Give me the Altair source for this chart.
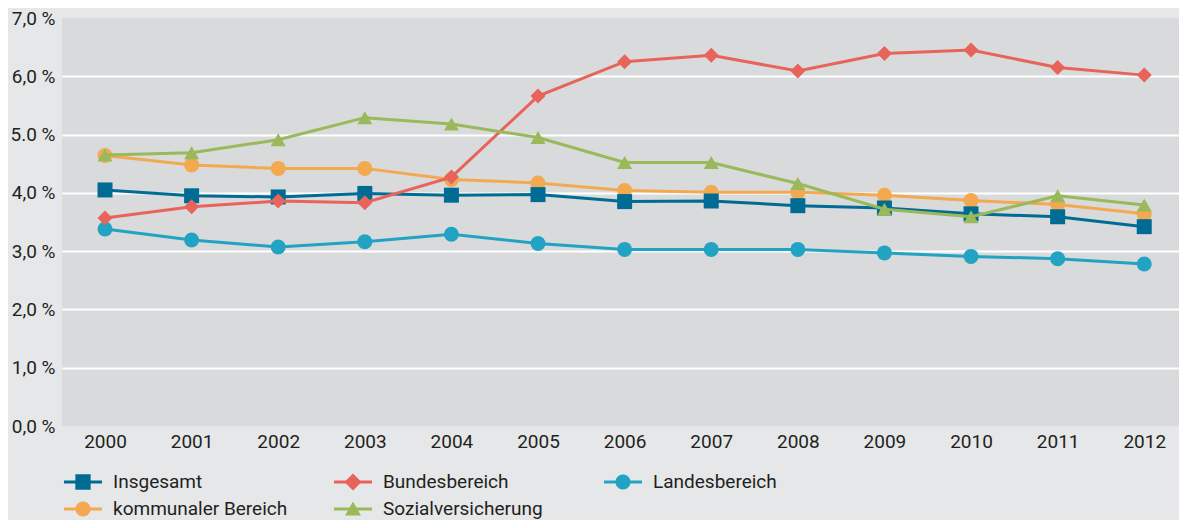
import altair as alt
import pandas as pd

years = [2000, 2001, 2002, 2003, 2004, 2005, 2006, 2007, 2008, 2009, 2010, 2011, 2012]
series_names = ["Insgesamt", "Bundesbereich", "Landesbereich", "kommunaler Bereich", "Sozialversicherung"]
insgesamt = [4.05, 3.95, 3.93, 3.99, 3.96, 3.97, 3.85, 3.86, 3.78, 3.74, 3.64, 3.59, 3.42]
bundes = [3.57, 3.76, 3.86, 3.83, 4.27, 5.66, 6.25, 6.36, 6.09, 6.39, 6.45, 6.15, 6.02]
landes = [3.38, 3.19, 3.07, 3.16, 3.29, 3.13, 3.03, 3.03, 3.03, 2.97, 2.91, 2.87, 2.78]
kommunal = [4.64, 4.48, 4.42, 4.42, 4.23, 4.17, 4.04, 4.01, 4.01, 3.96, 3.87, 3.80, 3.64]
sozial = [4.65, 4.69, 4.91, 5.29, 5.18, 4.95, 4.52, 4.52, 4.16, 3.72, 3.59, 3.95, 3.79]
y_ticks = [0, 1, 2, 3, 4, 5, 6, 7]

values = [insgesamt, bundes, landes, kommunal, sozial]
rows = []
for name, vals in zip(series_names, values):
    for yr, v in zip(years, vals):
        rows.append({"year": str(yr), "series": name, "value": v})
df = pd.DataFrame(rows)

colors = ["#006c93", "#e8645a", "#22a3c4", "#f2a950", "#99b95a"]
plot_shapes = {
    "Insgesamt": "square",
    "Bundesbereich": "diamond",
    "Landesbereich": "circle",
    "kommunaler Bereich": "circle",
    "Sozialversicherung": "triangle-up",
}
line = "M-1.27,-0.1H1.27V0.1H-1.27Z"
circle = "M-0.5,0A0.5,0.5,0,1,1,0.5,0A0.5,0.5,0,1,1,-0.5,0Z"
legend_paths = [
    line + "M-0.51,-0.51H0.51V0.51H-0.51Z",
    line + "M0,-0.57L0.57,0L0,0.57L-0.57,0Z",
    line + circle,
    line + circle,
    line + "M0,-0.5L0.53,0.43L-0.53,0.43Z",
]

FONT = "Roboto"
FS = 19
TXT = "#231f20"
color_scale = alt.Scale(domain=series_names, range=colors)

base = alt.Chart(df)
x_enc = alt.X("year:O", title=None,
              scale=alt.Scale(type="point", padding=0.449, align=0.553),
              axis=alt.Axis(labelAngle=0, ticks=False, domain=False, grid=False,
                            labelPadding=6, labelFontSize=FS, labelFont=FONT,
                            labelColor=TXT))
y_enc = alt.Y("value:Q", title=None,
              scale=alt.Scale(domain=[0, 7], nice=False),
              axis=alt.Axis(values=y_ticks, ticks=False, domain=False,
                            labelPadding=7, labelFontSize=FS, labelFont=FONT,
                            labelColor=TXT, gridWidth=2,
                            gridColor={"condition": {"test": "datum.value == 0 || datum.value == 7",
                                                     "value": "transparent"},
                                       "value": "#ffffff"},
                            labelExpr="datum.value == 5 ? '5.0 %' : replace(format(datum.value, '.1f'), '.', ',') + ' %'"))

legend = alt.Legend(orient="none", legendX=6, legendY=449, title=None, columns=3,
                    direction="horizontal", gridAlign="all", columnPadding=45, rowPadding=2,
                    symbolSize=900, symbolStrokeWidth=0, labelOffset=15, padding=0,
                    labelLimit=400,
                    labelFontSize=FS, labelFont=FONT, labelColor=TXT, symbolOpacity=1)
# legend layer first so its (enabled) legend wins the merge
legend_layer = base.mark_point(filled=True, size=900, opacity=0).encode(
    x=x_enc, y=y_enc,
    color=alt.Color("series:N", scale=color_scale, legend=legend),
    shape=alt.Shape("series:N", scale=alt.Scale(domain=series_names, range=legend_paths), legend=legend),
)
layers = [legend_layer]

draw_order = ["kommunaler Bereich", "Landesbereich", "Insgesamt", "Bundesbereich", "Sozialversicherung"]
for name in draw_order:
    sub = base.transform_filter(alt.datum.series == name)
    layers.append(sub.mark_line(strokeWidth=3).encode(
        x=x_enc, y=y_enc,
        color=alt.Color("series:N", scale=color_scale, legend=None)))
    layers.append(sub.mark_point(shape=plot_shapes[name], filled=True, size=225, opacity=1).encode(
        x=x_enc, y=y_enc,
        color=alt.Color("series:N", scale=color_scale, legend=None)))

chart = alt.layer(*layers).properties(
    width=1117, height=408,
    autosize=alt.AutoSizeParams(type="none"),
    padding={"left": 54, "top": 10, "right": 0, "bottom": 94},
    background="#e6e7e9",
).configure_view(fill="#d9dadc", stroke=None)

chart.save("out.html", embed_options={"renderer": "svg", "actions": False})
